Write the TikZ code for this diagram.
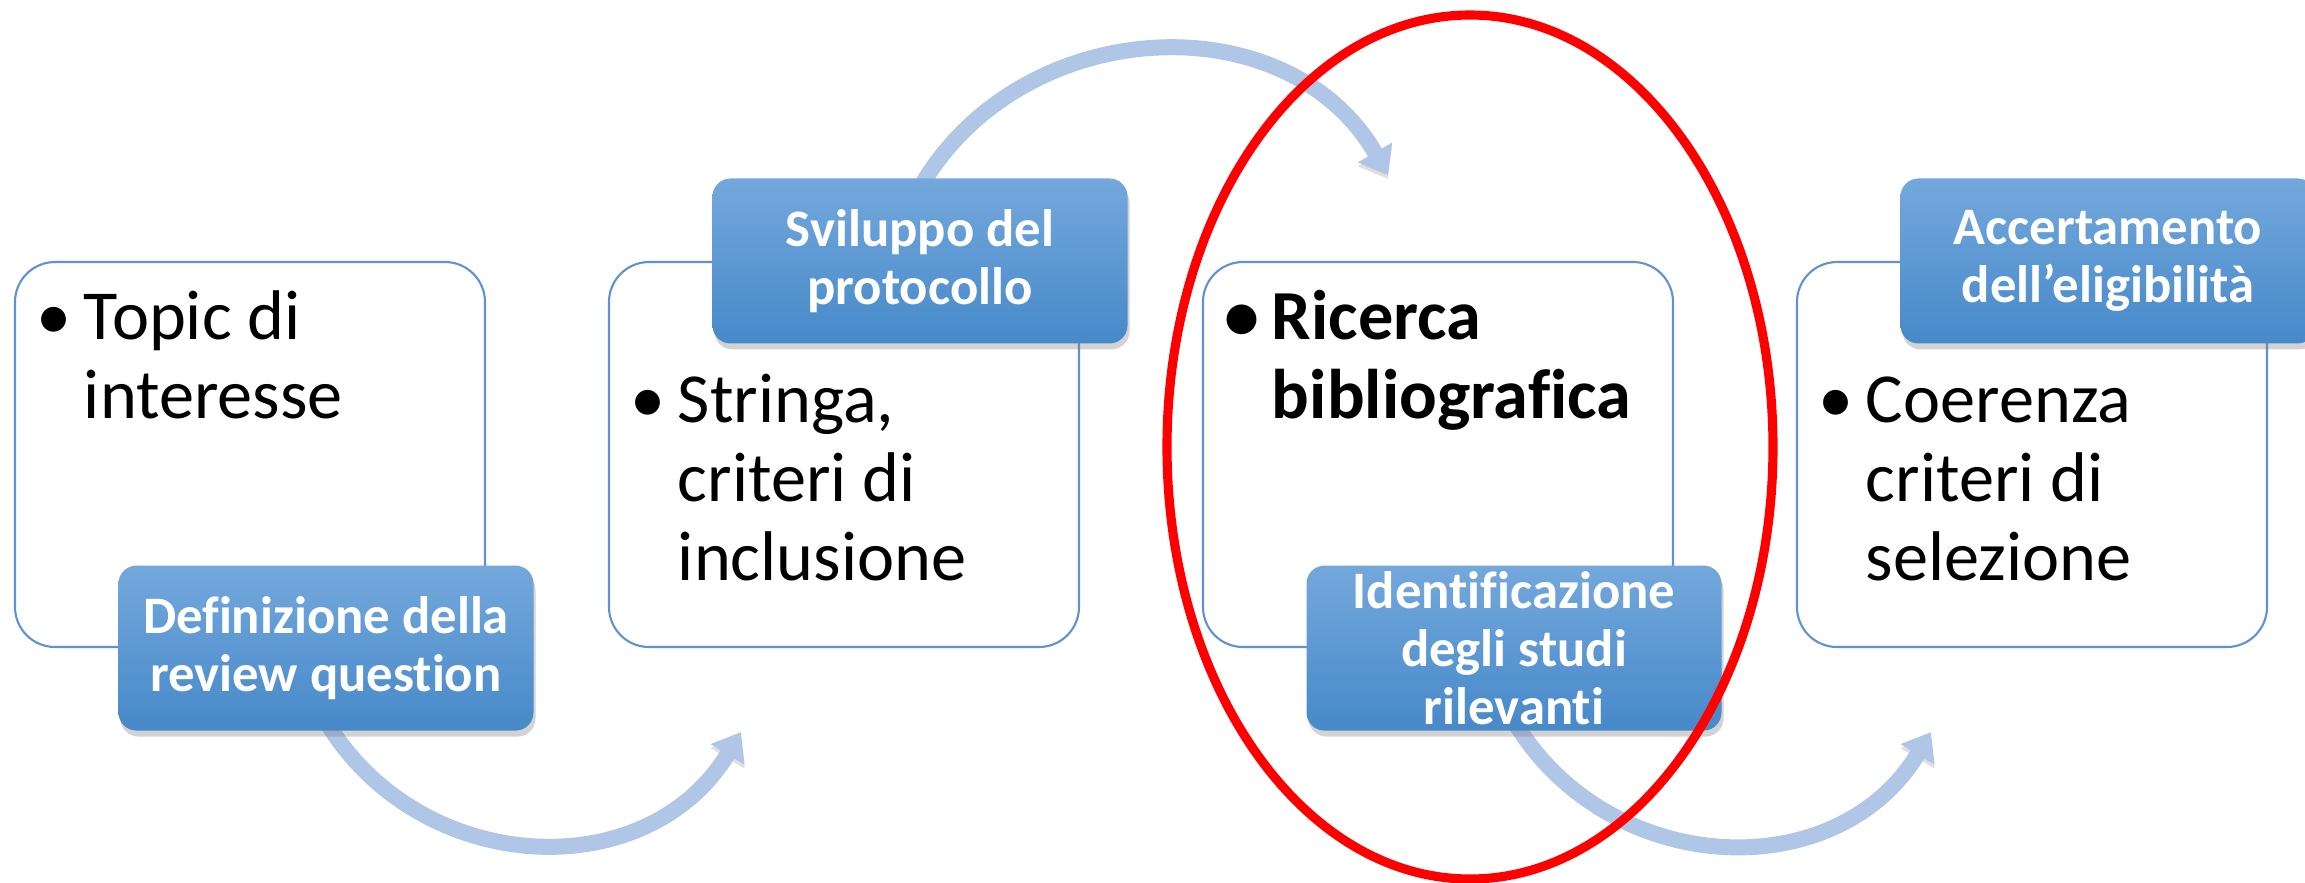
\documentclass[tikz,border=0pt]{standalone}
\usepackage{fontspec}
\setmainfont{Carlito}[Ligatures=NoCommon]
\usepackage{tikz}
\usetikzlibrary{positioning, shapes.geometric, shadows, arrows.meta}
\pgfdeclarelayer{background}
\pgfdeclarelayer{foreground}
\pgfsetlayers{background,main,foreground}
\definecolor{tabtop}{RGB}{116,168,220}
\definecolor{tabbot}{RGB}{70,137,201}
\definecolor{cardline}{RGB}{96,146,208}
\definecolor{flowblue}{RGB}{176,198,230}
\tikzstyle{card}    = [rectangle, rounded corners=0.4cm, minimum width=4.70cm, minimum height=3.85cm, draw=cardline, line width=0.6pt, fill=white]
\tikzstyle{tabbox}  = [rectangle, rounded corners=0.18cm, minimum width=4.15cm, minimum height=1.65cm, inner sep=0pt, top color=tabtop, bottom color=tabbot, text=white, align=center, font=\fontsize{15}{16.4}\selectfont\bfseries, drop shadow={opacity=0.35, shadow xshift=0.02cm, shadow yshift=-0.06cm}]
\tikzstyle{bullets} = [anchor=north west, inner sep=0pt, font=\fontsize{20}{22.4}\selectfont]
\tikzstyle{flow}    = [line width=0.16cm, draw=flowblue, -{Triangle[width=0.38cm, length=0.26cm]}, preaction={draw=black!50, opacity=0.25, transform canvas={yshift=-0.04cm}}]
\tikzstyle{ring}    = [ellipse, draw=red, line width=2.6pt, inner sep=0pt, minimum width=6.06cm, minimum height=8.64cm]

\begin{document}
\begin{tikzpicture}[node distance=5.94cm]
      \useasboundingbox (0,0) rectangle (23.05,-8.82);

      \node (B1) [card] at (2.50,-4.545) {};
      \node (B2) [card, right of=B1]     {};
      \node (B3) [card, right of=B2]     {};
      \node (B4) [card, right of=B3]     {};

      \node (P1) [bullets, below right=0.23cm and 0.22cm of B1.north west] {\begin{tabular}{@{}l@{\hspace{3.5pt}}l@{}}• & Topic di\\ & interesse\end{tabular}};
      \node (P2) [bullets, below right=1.06cm and 0.22cm of B2.north west] {\begin{tabular}{@{}l@{\hspace{3.5pt}}l@{}}• & Stringa,\\ & criteri di\\ & inclusione\end{tabular}};
      \node (P3) [bullets, below right=0.23cm and 0.22cm of B3.north west] {\begin{tabular}{@{}l@{\hspace{3.5pt}}l@{}}\textbf{•} & \textbf{Ricerca}\\ & \textbf{bibliografica}\end{tabular}};
      \node (P4) [bullets, below right=1.06cm and 0.22cm of B4.north west] {\begin{tabular}{@{}l@{\hspace{3.5pt}}l@{}}• & Coerenza\\ & criteri di\\ & selezione\end{tabular}};

      \node (T1) [tabbox, xshift=0.76cm] at (B1.south) {Definizione della\\review question};
      \node (T2) [tabbox, xshift=0.76cm] at (B2.north) {Sviluppo del\\protocollo};
      \node (T3) [tabbox, xshift=0.76cm] at (B3.south) {Identificazione\\degli studi\\rilevanti};
      \node (T4) [tabbox, xshift=0.76cm] at (B4.north) {Accertamento\\dell’eligibilità};

      \coordinate [below right=0.84cm and 1.33cm of B2.south west] (A1);
      \coordinate [above right=0.86cm and 1.86cm of B3.north west] (A2);
      \coordinate [below right=0.84cm and 1.35cm of B4.south west] (A3);

      % flow arrows behind the tabs
      \begin{pgfonlayer}{background}
        \draw [flow] ([yshift=0.1cm]T1.south)  to[out=-59, in=-121, looseness=1.12] (A1);
        \draw [flow] ([yshift=-0.1cm]T2.north) to[out=60, in=120, looseness=1.1]    (A2);
        \draw [flow] ([yshift=0.1cm]T3.south)  to[out=-59, in=-121, looseness=1.12] (A3);
      \end{pgfonlayer}

      % highlight on the third step
      \begin{pgfonlayer}{foreground}
        \node (R) [ring, xshift=0.32cm, yshift=0.075cm] at (B3) {};
      \end{pgfonlayer}
    \end{tikzpicture}
\end{document}
